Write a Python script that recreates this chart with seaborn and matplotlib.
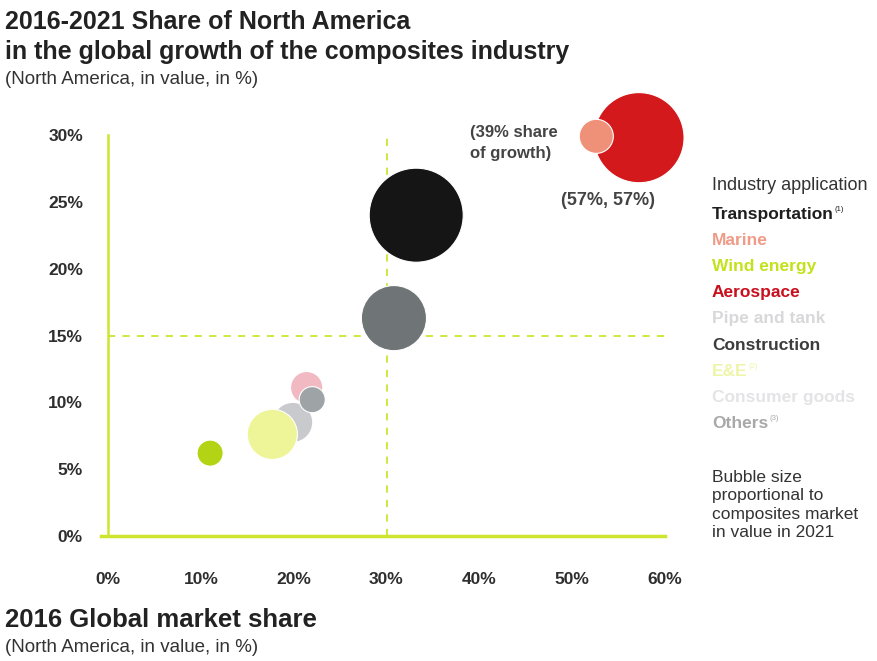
import numpy as np
import pandas as pd
import matplotlib
matplotlib.use("Agg")
import matplotlib.pyplot as plt
import seaborn as sns

# bubbles: 2016 global market share (x), share of global growth 2016-2021 (y),
# 2021 market value (relative units, bubble area)
bubble_names = ['Aerospace', 'Marine', 'Transportation', 'Construction', 'Pipe and tank',
                'E&E', 'Wind energy', 'Consumer goods', 'Others']
global_share = [57.2, 52.6, 33.2, 30.8, 19.9, 17.7, 11.0, 21.4, 22.0]
growth_share = [29.8, 29.9, 24.0, 16.3, 8.5, 7.6, 6.2, 11.1, 10.2]
market_2021 = [20.3, 2.9, 22.1, 10.6, 4.0, 6.3, 1.7, 2.6, 1.7]
bubble_colors = ['#d3191c', '#ef9079', '#151515', '#6f7576', '#c9cacd',
                 '#eef598', '#b3d415', '#f1bac2', '#9ea3a5']

legend_labels = ['Transportation', 'Marine', 'Wind energy', 'Aerospace', 'Pipe and tank',
                 'Construction', 'E&E', 'Consumer goods', 'Others']
legend_sups = ['(1)', '', '', '', '', '', '(2)', '', '(3)']
legend_colors = ['#1e1e1e', '#f09a88', '#c4e21c', '#c8101e', '#d8d8da',
                 '#3c3c3c', '#eef5a8', '#e4e4e6', '#a8a8a8']

x_ticks = [0, 10, 20, 30, 40, 50, 60]
y_ticks = [0, 5, 10, 15, 20, 25, 30]

df = pd.DataFrame({'name': bubble_names, 'x': global_share, 'y': growth_share,
                   'value': market_2021})

sns.set_style("white")
plt.rcParams['font.family'] = ['Liberation Sans', 'DejaVu Sans']

fig = plt.figure(figsize=(8.77, 6.61), dpi=100)
ax = fig.add_axes([108 / 877, 1 - 536 / 661, 557 / 877, 401 / 661])

lime = '#cde52e'
ax.axhline(15, xmin=0, xmax=1, color=lime, lw=1.3, ls=(0, (4, 4)), zorder=1)
ax.plot([30, 30], [0, 30.2], color=lime, lw=1.3, ls=(0, (4, 4)), zorder=1)

palette = dict(zip(bubble_names, bubble_colors))
sizes = df['value'] * 207.4
sns.scatterplot(data=df, x='x', y='y', hue='name', palette=palette, s=sizes,
                edgecolor='white', linewidth=0.8, alpha=1, legend=False,
                clip_on=False, zorder=3, ax=ax)

ax.set_xlim(0, 60)
ax.set_ylim(0, 30)
ax.set_xticks(x_ticks)
ax.set_yticks(y_ticks)
ax.set_xticklabels([f'{t}%' for t in x_ticks])
ax.set_yticklabels([f'{t}%' for t in y_ticks])
ax.set_xlabel('')
ax.set_ylabel('')
for lab in ax.get_xticklabels() + ax.get_yticklabels():
    lab.set_fontweight('bold')
    lab.set_color('#2e2e2e')
    lab.set_fontsize(12.5)
ax.tick_params(axis='x', length=4, color='#dddddd', pad=24, direction='inout')
ax.tick_params(axis='y', length=4, color='#dddddd', pad=16, direction='inout')

for side in ['top', 'right']:
    ax.spines[side].set_visible(False)
ax.spines['bottom'].set_color(lime)
ax.spines['bottom'].set_linewidth(2.5)
ax.spines['bottom'].set_bounds(-0.8, 60)
ax.spines['left'].set_color(lime)
ax.spines['left'].set_linewidth(1.8)

# annotations near aerospace
fig.text(470 / 877, 1 - 143 / 661, '(39% share\nof growth)', ha='left', va='center',
         fontsize=12, fontweight='bold', color='#444444', linespacing=1.45)
fig.text(608 / 877, 1 - 200 / 661, '(57%, 57%)', ha='center', va='center',
         fontsize=13, fontweight='bold', color='#444444')

# titles
fig.text(5 / 877, 1 - 22 / 661, '2016-2021 Share of North America', ha='left', va='center',
         fontsize=18, fontweight='bold', color='#222222')
fig.text(5 / 877, 1 - 52 / 661, 'in the global growth of the composites industry', ha='left',
         va='center', fontsize=18, fontweight='bold', color='#222222')
fig.text(5 / 877, 1 - 79 / 661, '(North America, in value, in %)', ha='left', va='center',
         fontsize=13.5, color='#333333')
fig.text(5 / 877, 1 - 620 / 661, '2016 Global market share', ha='left', va='center',
         fontsize=18.5, fontweight='bold', color='#222222')
fig.text(5 / 877, 1 - 647 / 661, '(North America, in value, in %)', ha='left', va='center',
         fontsize=13.5, color='#333333')

# legend as coloured text
fig.text(712 / 877, 1 - 186 / 661, 'Industry application', ha='left', va='center',
         fontsize=13, color='#333333')
for i, (lab, sup, col) in enumerate(zip(legend_labels, legend_sups, legend_colors)):
    yy = 1 - (214 + i * 26.2) / 661
    t = fig.text(712 / 877, yy, lab, ha='left', va='center', fontsize=12.5,
                 fontweight='bold', color=col)
    if sup:
        fig.canvas.draw()
        bb = t.get_window_extent()
        fig.text((bb.x1 + 1) / 877, yy + 5 / 661, sup, ha='left', va='center',
                 fontsize=5.5, color=col)

fig.text(712 / 877, 1 - 505 / 661,
         'Bubble size\nproportional to\ncomposites market\nin value in 2021',
         ha='left', va='center', fontsize=12.5, color='#333333', linespacing=1.3)

fig.savefig('out.png', dpi=100)
